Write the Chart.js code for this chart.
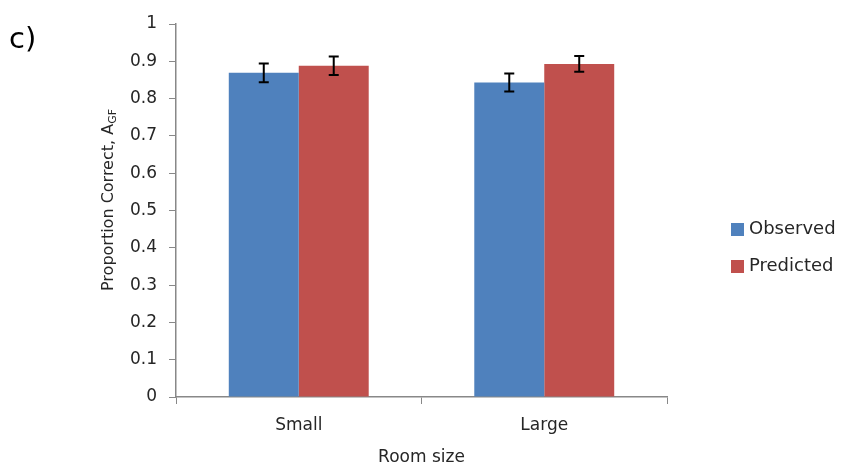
<!DOCTYPE html>
<html><head><meta charset="utf-8">
<script src="https://cdn.jsdelivr.net/npm/chart.js@4"></script>
<style>html,body{margin:0;padding:0;background:#fff}#wrap{width:841px;height:470px}</style>
</head><body><div id="wrap"><canvas id="c" width="841" height="470"></canvas></div>
<script>
const categories = ["Small", "Large"];
const seriesNames = ["Observed", "Predicted"];
const observed = [0.869, 0.843];
const predicted = [0.888, 0.893];
const observedErr = [0.025, 0.024];
const predictedErr = [0.025, 0.021];
const yTicks = [0, 0.1, 0.2, 0.3, 0.4, 0.5, 0.6, 0.7, 0.8, 0.9, 1];
const colors = ["#4F81BD", "#C0504D"];
const FONT = "'DejaVu Sans', sans-serif";
const TXT = "#262626";

const errorBars = {
  id: 'errorBars',
  afterDatasetsDraw(chart) {
    const ctx = chart.ctx, y = chart.scales.y;
    chart.data.datasets.forEach((ds, di) => {
      const meta = chart.getDatasetMeta(di);
      meta.data.forEach((bar, i) => {
        const v = ds.data[i], e = ds.err[i];
        const yt = y.getPixelForValue(v + e), yb = y.getPixelForValue(v - e);
        const x = bar.x;
        ctx.save();
        ctx.strokeStyle = "#000"; ctx.lineWidth = 2;
        ctx.beginPath();
        ctx.moveTo(x, yt); ctx.lineTo(x, yb);
        ctx.moveTo(x - 5, yt); ctx.lineTo(x + 5, yt);
        ctx.moveTo(x - 5, yb); ctx.lineTo(x + 5, yb);
        ctx.stroke();
        ctx.restore();
      });
    });
  }
};

const extras = {
  id: 'extras',
  afterDraw(chart) {
    const ctx = chart.ctx;
    ctx.save();
    ctx.fillStyle = "#000";
    ctx.font = "29px " + FONT;
    ctx.textBaseline = "middle"; ctx.textAlign = "left";
    ctx.fillText("c)", 9, 40);
    // y title with subscript
    ctx.fillStyle = TXT;
    const main = "Proportion Correct, A", sub = "GF";
    ctx.font = "16px " + FONT;
    const w1 = ctx.measureText(main).width;
    ctx.font = "11px " + FONT;
    const w2 = ctx.measureText(sub).width;
    const total = w1 + w2;
    ctx.translate(107, 200);
    ctx.rotate(-Math.PI / 2);
    ctx.textBaseline = "alphabetic"; ctx.textAlign = "left";
    ctx.font = "16px " + FONT;
    ctx.fillText(main, -total / 2, 6);
    ctx.font = "11px " + FONT;
    ctx.fillText(sub, -total / 2 + w1, 9);
    ctx.restore();
    // legend
    ctx.save();
    ctx.font = "18px " + FONT;
    ctx.textBaseline = "middle"; ctx.textAlign = "left";
    chart.data.datasets.forEach((ds, i) => {
      const yy = 229 + i * 37;
      ctx.fillStyle = ds.backgroundColor;
      ctx.fillRect(731, yy - 6, 13, 13);
      ctx.fillStyle = TXT;
      ctx.fillText(ds.label, 749, yy);
    });
    ctx.restore();
  }
};

new Chart(document.getElementById('c'), {
  type: 'bar',
  data: {
    labels: categories,
    datasets: [
      { label: seriesNames[0], data: observed, err: observedErr, backgroundColor: colors[0] },
      { label: seriesNames[1], data: predicted, err: predictedErr, backgroundColor: colors[1] }
    ]
  },
  options: {
    responsive: false, animation: false,
    layout: { padding: { top: 24, right: 174, left: 0, bottom: 0 } },
    plugins: { legend: { display: false }, tooltip: { enabled: false } },
    datasets: { bar: { barPercentage: 1, categoryPercentage: 0.57 } },
    scales: {
      x: {
        grid: { offset: true, drawOnChartArea: false, drawTicks: true, tickLength: 7, color: "#888" },
        border: { display: true, color: "#888", width: 1.5 },
        ticks: { color: TXT, font: { family: FONT, size: 17 }, padding: 11 },
        title: { display: true, text: "Room size", color: TXT, font: { family: FONT, size: 17 }, padding: { top: 6, bottom: 2 } },
        afterFit(s) { s.height = 73; }
      },
      y: {
        min: 0, max: 1,
        afterBuildTicks(s) { s.ticks = yTicks.map(v => ({ value: v })); },
        grid: { drawOnChartArea: false, drawTicks: true, tickLength: 7, color: "#888" },
        border: { display: true, color: "#888", width: 1.5 },
        ticks: { color: TXT, font: { family: FONT, size: 17 }, padding: 12, callback: v => String(v) },
        afterFit(s) { s.width = 176; }
      }
    }
  },
  plugins: [errorBars, extras]
});
</script></body></html>
